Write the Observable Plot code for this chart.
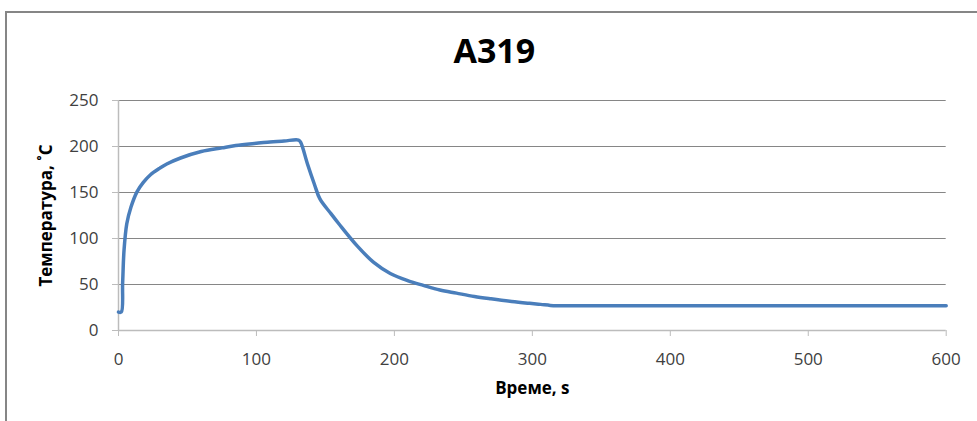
<!DOCTYPE html>
<html>
<head>
<meta charset="utf-8">
<script src="https://cdn.jsdelivr.net/npm/d3@7"></script>
<script src="https://cdn.jsdelivr.net/npm/@observablehq/plot@0.6"></script>
<style>
  html, body { margin: 0; padding: 0; background: #fff; }
  #wrap { position: relative; width: 977px; height: 421px; overflow: hidden; }
  #frame { position: absolute; left: 5px; top: 11px; width: 1000px; height: 420px;
           border-top: 2px solid #868686; border-left: 2px solid #868686; pointer-events: none; }
  #chart { position: absolute; left: 0; top: 0; }
</style>
</head>
<body>
<div id="wrap"><div id="chart"></div><div id="frame"></div></div>
<script>
const title = "A319";
const xLabel = "Време, s";
const yLabel = "Температура, ˚C";
const xTicks = [0, 100, 200, 300, 400, 500, 600];
const yTicks = [0, 50, 100, 150, 200, 250];
const times = [0, 2, 3, 4, 6, 9, 13.5, 18, 23, 30, 35, 45, 60, 75, 85, 100, 108, 120, 130.5, 132, 137, 142, 146, 154, 160, 173, 185, 197, 210, 221, 233, 245, 258, 270, 285, 298, 306, 313, 318, 400, 500, 600];
const temps = [20, 20, 52, 87, 116, 134, 151, 161, 169, 176.5, 181, 187.5, 194.5, 198.5, 201, 203.5, 204.7, 206, 207, 204.7, 181, 159, 143, 127, 115.5, 92, 74, 62, 54, 49, 44, 40.6, 37, 34.4, 31.5, 29.5, 28.4, 27.3, 27, 27, 27, 27];

const data = times.map((t, i) => ({t, T: temps[i]}));

const chart = Plot.plot({
  width: 977,
  height: 421,
  marginLeft: 118,
  marginRight: 31.3,
  marginTop: 100,
  marginBottom: 91,
  style: {fontFamily: "'Open Sans', sans-serif", fontSize: "17px", background: "transparent", overflow: "visible"},
  x: {domain: [0, 600]},
  y: {domain: [0, 250]},
  marks: [
    Plot.gridY(yTicks.filter(d => d > 0), {stroke: "#868686", strokeOpacity: 1, strokeWidth: 1}),
    Plot.ruleY([0], {stroke: "#bcbcbc", strokeWidth: 1.5}),
    Plot.ruleX([0], {stroke: "#bcbcbc", strokeWidth: 1.5}),
    Plot.axisY(yTicks, {tickSize: 6, tickPadding: 14, stroke: "#bcbcbc", fill: "#404040", fontSize: 17, label: null}),
    Plot.axisX(xTicks, {tickSize: 6, tickPadding: 16, stroke: "#bcbcbc", fill: "#404040", fontSize: 17, label: null}),
    Plot.line(data, {x: "t", y: "T", stroke: "#4a7ebb", strokeWidth: 3.5, curve: "catmull-rom"}),
    Plot.text([title], {frameAnchor: "top", dx: -38, dy: -48.5, lineAnchor: "middle", fontSize: 34, fontWeight: "bold", fill: "#000"}),
    Plot.text([xLabel], {frameAnchor: "bottom", dy: 58, lineAnchor: "middle", fontSize: 17, fontWeight: "bold", fill: "#000"}),
    Plot.text([yLabel], {frameAnchor: "left", dx: -71.5, rotate: -90, lineAnchor: "middle", textAnchor: "middle", fontSize: 17, fontWeight: "bold", fill: "#000"})
  ]
});
document.getElementById("chart").appendChild(chart);
</script>
</body>
</html>
